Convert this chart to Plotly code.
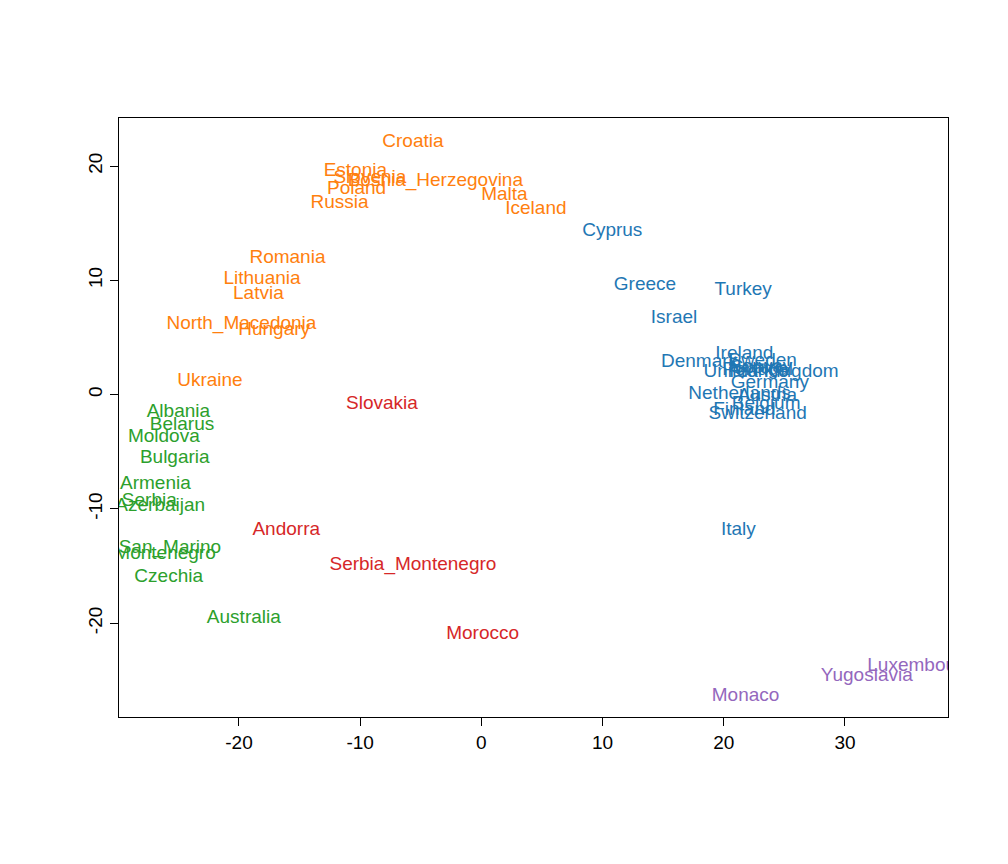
import plotly.graph_objects as go

labels = ['Croatia', 'Estonia', 'Slovenia', 'Bosnia_Herzegovina', 'Poland', 'Russia', 'Malta',
          'Iceland', 'Romania', 'Lithuania', 'Latvia', 'North_Macedonia', 'Hungary', 'Ukraine',
          'Cyprus', 'Greece', 'Turkey', 'Israel', 'Denmark', 'Ireland', 'Sweden', 'Norway',
          'Portugal', 'United Kingdom', 'Spain', 'France', 'Germany', 'Netherlands', 'Austria',
          'Belgium', 'Finland', 'Switzerland', 'Italy',
          'Albania', 'Belarus', 'Moldova', 'Bulgaria', 'Armenia', 'Serbia', 'Azerbaijan',
          'San_Marino', 'Montenegro', 'Czechia', 'Australia',
          'Slovakia', 'Andorra', 'Serbia_Montenegro', 'Morocco',
          'Monaco', 'Yugoslavia', 'Luxembourg']
dim1 = [-5.65, -10.4, -9.2, -3.8, -10.3, -11.7, 1.9,
        4.5, -16.0, -18.1, -18.4, -19.8, -17.1, -22.4,
        10.8, 13.5, 21.6, 15.9, 18.0, 21.7, 23.2, 23.0,
        22.8, 23.9, 22.6, 22.9, 23.8, 21.3, 23.6,
        23.5, 21.7, 22.8, 21.2,
        -25.0, -24.7, -26.2, -25.3, -26.9, -27.4, -26.5,
        -25.7, -26.1, -25.8, -19.6,
        -8.2, -16.1, -5.65, 0.1,
        21.8, 31.8, 36.2]
dim2 = [22.1, 19.5, 18.9, 18.7, 18.0, 16.7, 17.4,
        16.2, 11.9, 10.1, 8.8, 6.2, 5.6, 1.2,
        14.3, 9.6, 9.1, 6.7, 2.8, 3.5, 2.9, 2.4,
        2.1, 2.0, 2.3, 2.0, 1.0, 0.0, -0.1,
        -0.8, -1.4, -1.7, -11.9,
        -1.5, -2.7, -3.7, -5.6, -7.8, -9.3, -9.8,
        -13.4, -14.0, -16.0, -19.6,
        -0.8, -11.9, -14.9, -21.0,
        -26.4, -24.6, -23.8]
cluster = [1] * 14 + [2] * 19 + [3] * 11 + [4] * 4 + [5] * 3

xticks = [-20, -10, 0, 10, 20, 30]
yticks = [-20, -10, 0, 10, 20]

colors = {1: '#ff7f0e', 2: '#1f77b4', 3: '#2ca02c', 4: '#d62728', 5: '#9467bd'}

fig = go.Figure()
for k in sorted(colors):
    idx = [i for i, c in enumerate(cluster) if c == k]
    fig.add_trace(go.Scatter(
        x=[dim1[i] for i in idx], y=[dim2[i] for i in idx],
        text=[labels[i] for i in idx], mode='text',
        textfont=dict(color=colors[k], size=19, family='Liberation Sans'),
        textposition='middle center', cliponaxis=True, showlegend=False))

axis_common = dict(showgrid=False, zeroline=False, showline=True, linecolor='black',
                   linewidth=1, mirror=True, ticks='outside', ticklen=8,
                   tickcolor='black', tickfont=dict(size=19, color='black'))
fig.update_layout(
    width=1008, height=864, plot_bgcolor='white', paper_bgcolor='white',
    margin=dict(l=111, r=68, t=110, b=155),
    font=dict(family='Liberation Sans'),
    xaxis=dict(range=[-29.9, 38.5], tickvals=xticks, ticktext=[str(v) for v in xticks],
               **axis_common),
    yaxis=dict(range=[-28.2, 24.2], tickvals=yticks, ticktext=[str(v) for v in yticks],
               tickangle=-90, **axis_common),
)

fig.write_html("out.html")
